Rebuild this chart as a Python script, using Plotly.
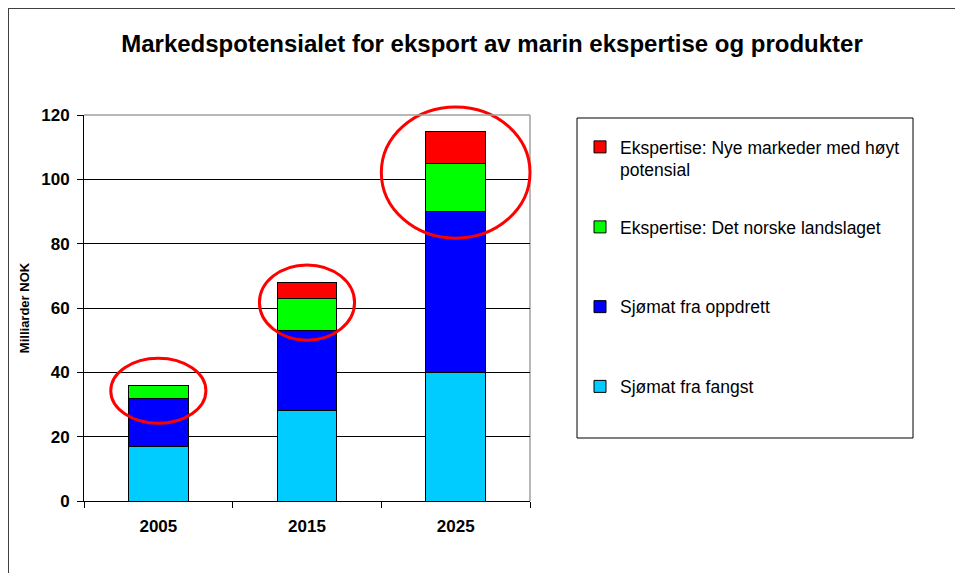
import plotly.graph_objects as go

# ---- data ----
years = ["2005", "2015", "2025"]
fangst = [17, 28, 40]          # Sjømat fra fangst
oppdrett = [15, 25, 50]        # Sjømat fra oppdrett
landslaget = [4, 10, 15]       # Ekspertise: Det norske landslaget
nye_markeder = [0, 5, 10]      # Ekspertise: Nye markeder med høyt potensial

series_names = [
    "Sjømat fra fangst",
    "Sjømat fra oppdrett",
    "Ekspertise: Det norske landslaget",
    "Ekspertise: Nye markeder med høyt<br>potensial",
]
series_values = [fangst, oppdrett, landslaget, nye_markeder]
series_colors = ["#00CCFF", "#0000FF", "#00FF00", "#FF0000"]
legend_ranks = [3, 2, 1, 0]

title_text = "Markedspotensialet for eksport av marin ekspertise og produkter"
y_title = "Milliarder NOK"

# ---- layout geometry (screen pixels; page has an 8px body offset) ----
OFF = 8
W, H = 963 - OFF, 573 - OFF
L, R, T, B = 84 - OFF, 530 - OFF, 115 - OFF, 501 - OFF
Y_RANGE = [0, 120]
FONT = "Liberation Sans, Arial, sans-serif"

def px_x(px):
    return (px - OFF - L) / (R - L)

def px_y(py):
    return (B - (py - OFF)) / (B - T)

def dx(cat_pos):
    return (cat_pos + 0.5) / len(years)

def dy(v):
    return (v - Y_RANGE[0]) / (Y_RANGE[1] - Y_RANGE[0])

fig = go.Figure()
for i, (name, vals, col) in enumerate(zip(series_names, series_values, series_colors)):
    fig.add_trace(go.Bar(
        x=years, y=vals, name=name,
        marker=dict(color=col, line=dict(color="black", width=1)),
        width=0.4,
        legend="legend" if i == 3 else "legend2",
        legendgroup=str(i),
        legendrank=legend_ranks[i],
    ))

shapes = []
# highlight ellipses (category index, half width in categories, y centre, half height)
highlights = [(0, 0.32, 34.3, 10.1), (1, 0.32, 61.7, 11.7), (2, 0.5, 102.1, 20.4)]
for ci, hw, yc, hh in highlights:
    shapes.append(dict(type="circle", xref="paper", yref="paper",
                       x0=dx(ci - hw), x1=dx(ci + hw), y0=dy(yc - hh), y1=dy(yc + hh),
                       line=dict(color="#FF0000", width=3), layer="above"))
# gray plot-area top/right border
shapes.append(dict(type="line", xref="paper", yref="paper", x0=0, x1=1, y0=1, y1=1,
                   line=dict(color="#A0A0A0", width=1.5), layer="above"))
shapes.append(dict(type="line", xref="paper", yref="paper", x0=1, x1=1, y0=0, y1=1,
                   line=dict(color="#A0A0A0", width=1.5), layer="below"))
# legend box
shapes.append(dict(type="rect", xref="paper", yref="paper",
                   x0=px_x(577), x1=px_x(913), y0=px_y(438), y1=px_y(118),
                   line=dict(color="black", width=1), fillcolor="rgba(0,0,0,0)"))
# outer frame (left and top)
shapes.append(dict(type="line", xref="paper", yref="paper",
                   x0=px_x(8), x1=px_x(8), y0=px_y(8), y1=px_y(580),
                   line=dict(color="#404040", width=2)))
shapes.append(dict(type="line", xref="paper", yref="paper",
                   x0=px_x(7), x1=px_x(970), y0=px_y(8), y1=px_y(8),
                   line=dict(color="#404040", width=2)))

fig.update_layout(
    width=W, height=H,
    margin=dict(l=L, r=W - R, t=T, b=H - B),
    paper_bgcolor="white", plot_bgcolor="white",
    barmode="stack",
    font=dict(family=FONT, color="black"),
    title=dict(text=f"<b>{title_text}</b>", font=dict(size=24, color="black"),
               xref="container", yref="container", x=(492 - OFF) / W, xanchor="center",
               y=1 - (44 - OFF) / H, yanchor="middle"),
    xaxis=dict(type="category", showline=True, linecolor="black", linewidth=1,
               ticks="outside", tickson="boundaries", ticklen=6, tickcolor="black",
               tickfont=dict(size=17, color="black"), ticklabelstandoff=10,
               tickvals=years, ticktext=[f"<b>{y}</b>" for y in years],
               showgrid=False),
    yaxis=dict(range=Y_RANGE, dtick=20, showline=True, linecolor="black", linewidth=1,
               ticks="outside", ticklen=6, tickcolor="black",
               showgrid=True, gridcolor="black", gridwidth=1,
               tickfont=dict(size=17, color="black"), ticklabelstandoff=4,
               tickprefix="<b>", ticksuffix="</b>",
               title=dict(text=f"<b>{y_title}</b>", font=dict(size=13), standoff=8),
               zeroline=False),
    legend=dict(x=px_x(580), y=px_y(129), xanchor="left", yanchor="top",
                bgcolor="rgba(0,0,0,0)", borderwidth=0, valign="top",
                font=dict(size=17.5, color="black")),
    legend2=dict(x=px_x(580), y=px_y(209), xanchor="left", yanchor="top",
                 bgcolor="rgba(0,0,0,0)", borderwidth=0, traceorder="grouped",
                 tracegroupgap=54, font=dict(size=17.5, color="black")),
    shapes=shapes,
    showlegend=True,
)

fig.write_html("out.html")
